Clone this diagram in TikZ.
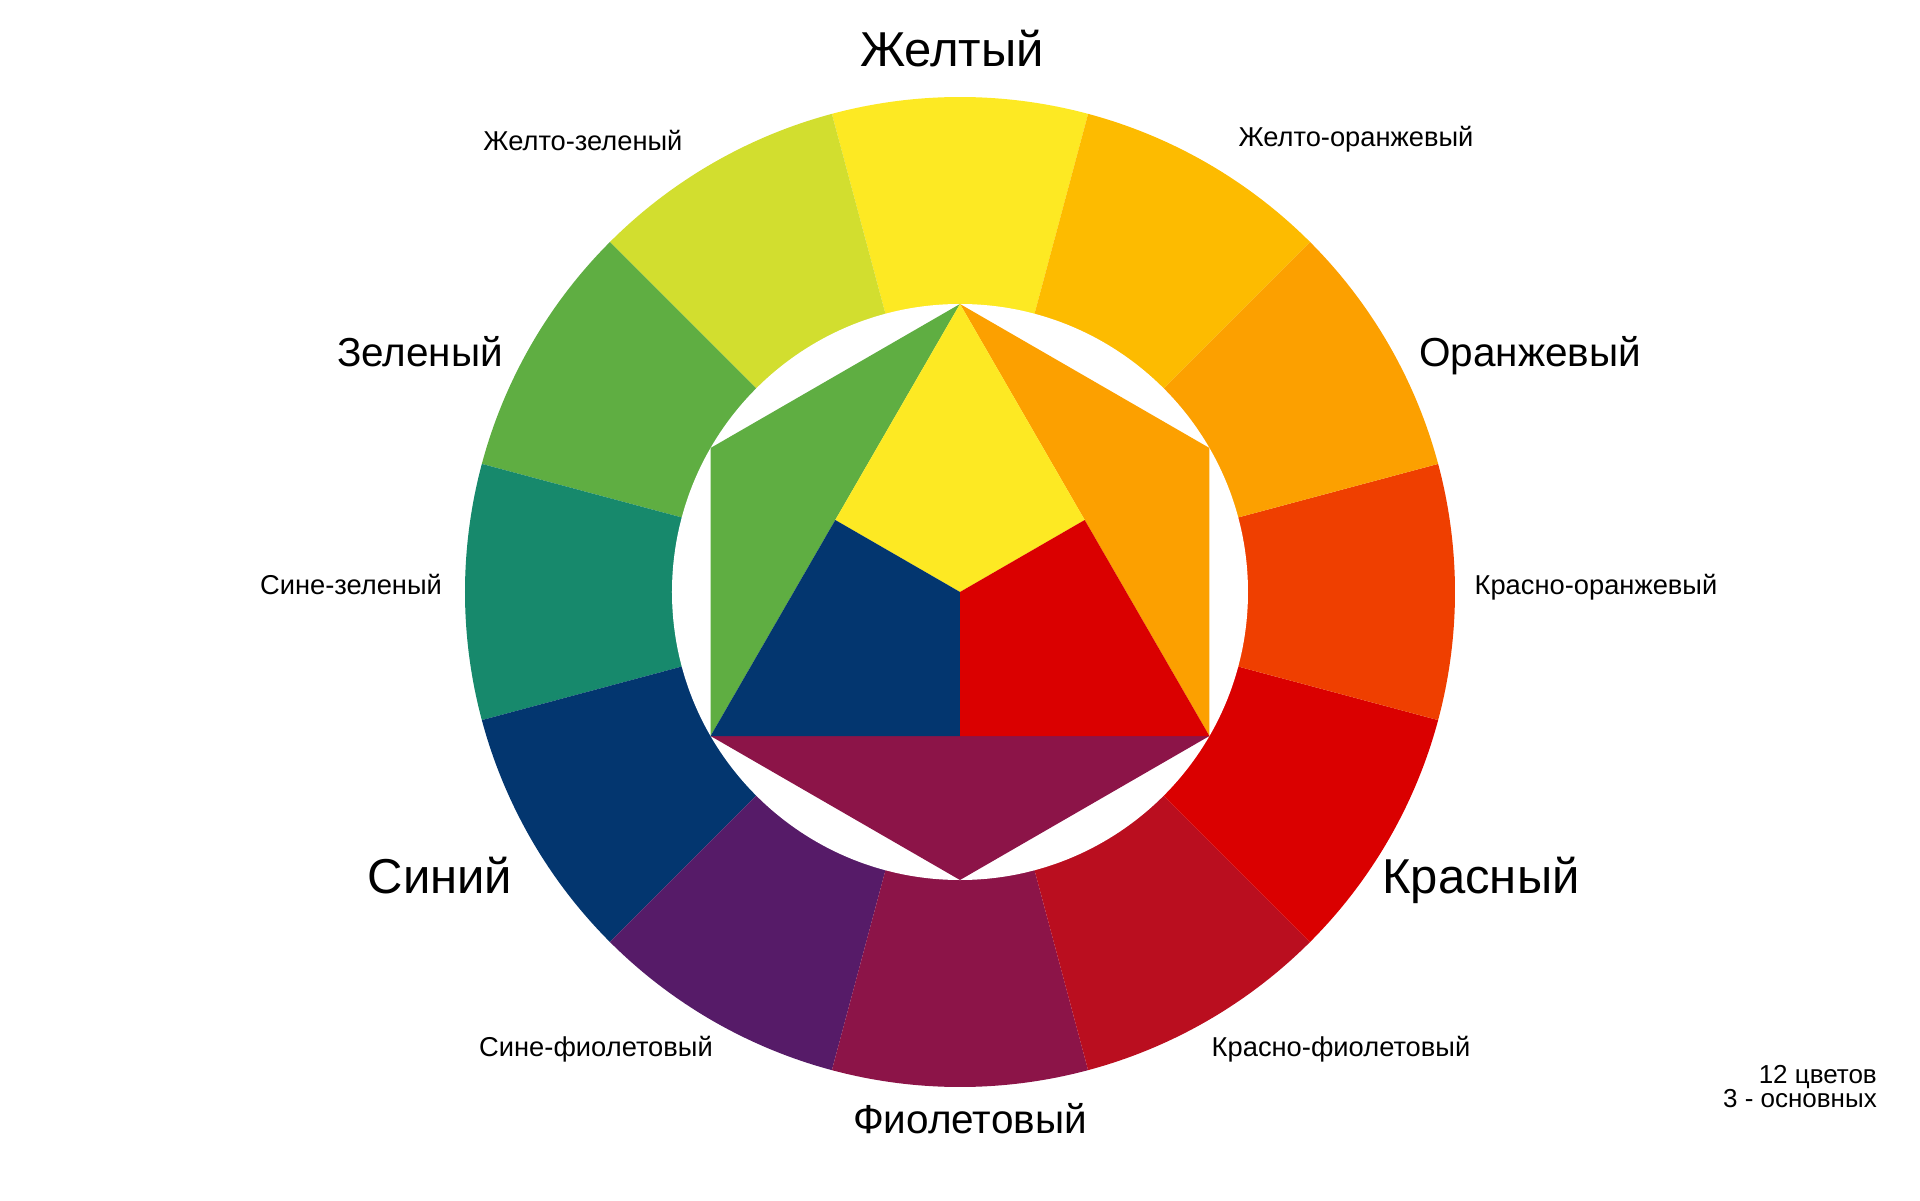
\documentclass[tikz,border=0pt]{standalone}
\usepackage{fontspec}
\setmainfont{Liberation Sans}
\usepackage{tikz}
\usetikzlibrary{calc}

\definecolor{cY}{HTML}{FDE923}
\definecolor{cYG}{HTML}{D2DE2F}
\definecolor{cG}{HTML}{5FAE42}
\definecolor{cBG}{HTML}{17896C}
\definecolor{cB}{HTML}{03366F}
\definecolor{cBV}{HTML}{561B68}
\definecolor{cV}{HTML}{8C1448}
\definecolor{cRV}{HTML}{BA0E1F}
\definecolor{cR}{HTML}{DA0000}
\definecolor{cRO}{HTML}{EF3F00}
\definecolor{cO}{HTML}{FCA000}
\definecolor{cYO}{HTML}{FDBB00}

\begin{document}
\begin{tikzpicture}[x=1pt, y=1pt,
  big/.style={font=\fontsize{49}{56}\selectfont, anchor=base, inner sep=0pt},
  mid/.style={font=\fontsize{40.5}{46}\selectfont, anchor=base, inner sep=0pt},
  small/.style={font=\fontsize{27.3}{31}\selectfont, anchor=base, inner sep=0pt},
  note/.style={font=\fontsize{26}{30}\selectfont, anchor=base east, inner sep=0pt}]
  \useasboundingbox (-960,-608) rectangle (960,592);

  % Ring
  \foreach \a/\c in {75/cY, 105/cYG, 135/cG, 165/cBG, 195/cB, 225/cBV,
                     255/cV, 285/cRV, 315/cR, 345/cRO, 15/cO, 45/cYO} {
    \fill[\c] (0,0) -- (\a:495) arc (\a:\a+30:495) -- cycle;
  }
  \fill[white] (0,0) circle (288);

  % Corners
  \coordinate (o) at (0,0);
  \coordinate (top) at (90:288);
  \coordinate (ur) at (30:288);
  \coordinate (lr) at (-30:288);
  \coordinate (bot) at (-90:288);
  \coordinate (ll) at (210:288);
  \coordinate (ul) at (150:288);
  \coordinate (mr) at ($(top)!0.5!(lr)$);
  \coordinate (ml) at ($(top)!0.5!(ll)$);
  \coordinate (mb) at ($(ll)!0.5!(lr)$);

  % Secondary triangles
  \fill[cO] (top) -- (ur) -- (lr) -- cycle;
  \fill[cG] (top) -- (ul) -- (ll) -- cycle;
  \fill[cV] (ll) -- (lr) -- (bot) -- cycle;

  % Primary triangle
  \fill[cY] (top) -- (mr) -- (o) -- (ml) -- cycle;
  \fill[cR] (mr) -- (lr) -- (mb) -- (o) -- cycle;
  \fill[cB] (ml) -- (o) -- (mb) -- (ll) -- cycle;

  % Labels
  \node[big] (tY) at (-8, 525) {Желтый};
  \node[small] (tYO) at (396, 445) {Желто-оранжевый};
  \node[mid] (tO) at (570, 225) {Оранжевый};
  \node[small] (tRO) at (636, -2) {Красно-оранжевый};
  \node[big] (tR) at (521, -301) {Красный};
  \node[small] (tRV) at (381, -464) {Красно-фиолетовый};
  \node[mid] (tV) at (10, -541) {Фиолетовый};
  \node[small] (tBV) at (-364, -464) {Сине-фиолетовый};
  \node[big] (tB) at (-520, -301) {Синий};
  \node[small] (tBG) at (-609, -2) {Сине-зеленый};
  \node[mid] (tG) at (-540, 225) {Зеленый};
  \node[small] (tYG) at (-377, 441) {Желто-зеленый};

  % Note
  \node[note] (n1) at (917, -491) {12 цветов};
  \node[note] (n2) at (917, -515) {3 - основных};
\end{tikzpicture}
\end{document}
